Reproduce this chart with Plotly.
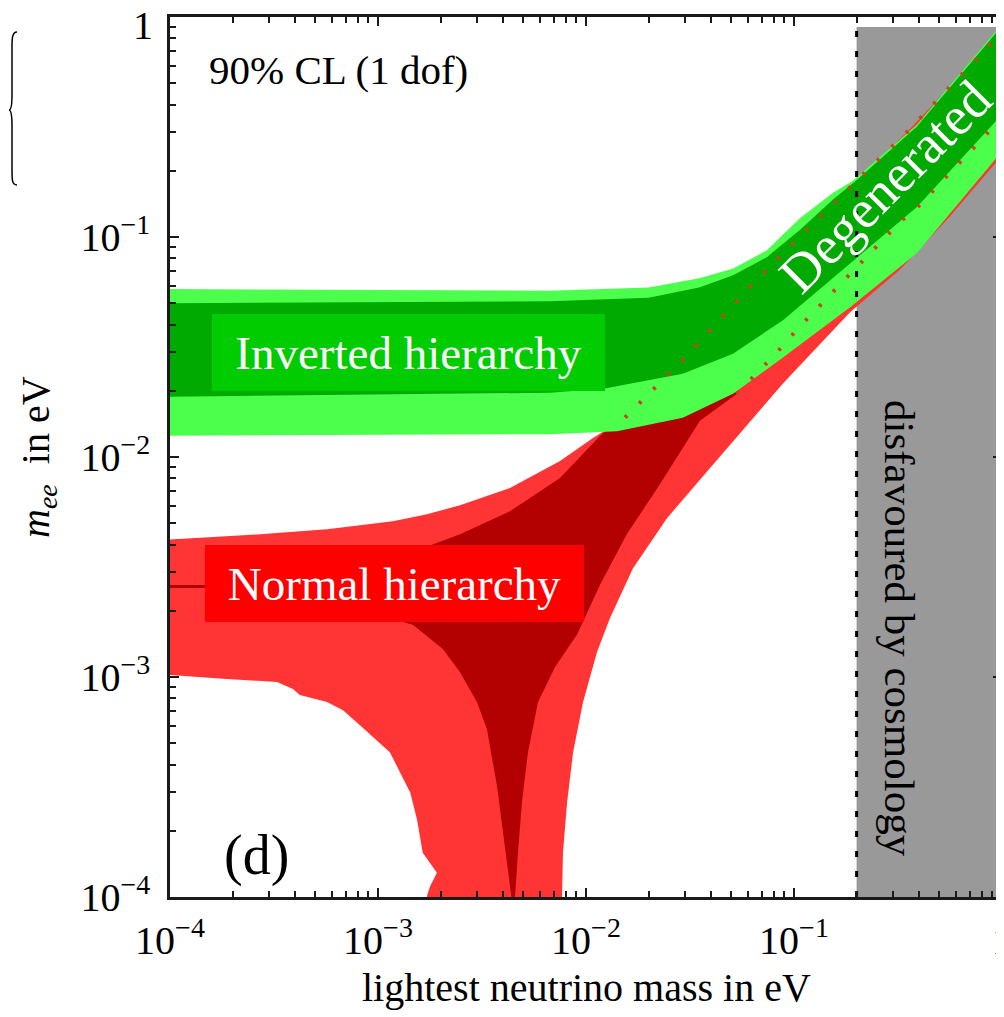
import plotly.graph_objects as go

# ---------------- data ----------------
# Inverted hierarchy, outer (light green) band
ih_outer_up_x = [1e-4, 6.7e-3, 2.0e-2, 3.5e-2, 5.1e-2, 7.4e-2, 0.107, 0.154, 0.192, 0.39, 1.0]
ih_outer_up_y = [0.058, 0.057, 0.059, 0.065, 0.072, 0.087, 0.122, 0.159, 0.180, 0.325, 0.93]
ih_outer_lo_x = [1e-4, 6.7e-3, 1.41e-2, 2.92e-2, 5.09e-2, 8.85e-2, 0.186, 0.39, 1.0]
ih_outer_lo_y = [0.0125, 0.0127, 0.0131, 0.0151, 0.0194, 0.0283, 0.0479, 0.0845, 0.245]
# Inverted hierarchy, inner (dark green) band
ih_inner_up_x = [1e-4, 6.7e-3, 2.0e-2, 3.5e-2, 5.1e-2, 7.4e-2, 0.107, 0.154, 0.201, 0.39, 1.0]
ih_inner_up_y = [0.050, 0.051, 0.053, 0.059, 0.067, 0.081, 0.108, 0.148, 0.182, 0.318, 0.91]
ih_inner_lo_x = [1e-4, 6.7e-3, 1.23e-2, 2.92e-2, 5.09e-2, 8.85e-2, 0.186, 0.39, 1.0]
ih_inner_lo_y = [0.0188, 0.0196, 0.0205, 0.0239, 0.0295, 0.0418, 0.0761, 0.137, 0.36]

# Normal hierarchy, outer (light red) region boundary
nh_outer_x = [1e-4, 2.71e-4, 5.69e-4, 1.18e-3, 1.72e-3, 2.48e-3, 4.31e-3, 7.5e-3, 1.08e-2,
              1.54e-2, 1.96e-2, 3.06e-2, 4.66e-2, 7.1e-2, 0.117, 0.186, 0.349, 0.679, 1.0,
              1.0, 0.562, 0.323, 0.186, 8.85e-2, 6.64e-2, 3.95e-2, 2.45e-2, 1.68e-2, 1.30e-2,
              1.13e-2, 9.68e-3, 8.67e-3, 8.11e-3, 7.75e-3, 7.67e-3, 7.67e-3,
              1.72e-3, 1.72e-3, 1.78e-3, 1.92e-3, 1.64e-3, 1.54e-3, 1.43e-3, 1.14e-3, 8.19e-4,
              6.79e-4, 5.69e-4, 4.21e-4, 3.9e-4, 3.27e-4, 1.88e-4, 1e-4]
nh_outer_y = [0.00422, 0.00445, 0.00469, 0.00510, 0.00549, 0.00604, 0.00722, 0.00959, 0.0122,
              0.0151, 0.0190, 0.0289, 0.0450, 0.0685, 0.110, 0.169, 0.30, 0.58, 0.86,
              0.235, 0.124, 0.071, 0.0455, 0.0216, 0.0157, 0.00891, 0.00527, 0.00311, 0.00184,
              0.00130, 0.000769, 0.000455, 0.000269, 0.000159, 0.000101, 5e-5,
              5e-5, 0.000101, 0.000112, 0.000129, 0.000159, 0.000225, 0.000298, 0.000455, 0.000604,
              0.000707, 0.000769, 0.000828, 0.000881, 0.000949, 0.00098, 0.00102]
# Normal hierarchy, inner (dark red) region boundary
nh_inner_x = [1e-4, 1.47e-4, 4.21e-4, 7.33e-4, 1.28e-3, 2.48e-3, 4.31e-3, 7.5e-3, 1.17e-2,
              1.6e-2, 2.5e-2, 3.8e-2, 5.32e-2,
              3.53e-2, 2.27e-2, 1.57e-2, 1.17e-2, 9.06e-3, 7.1e-3, 5.88e-3, 5.26e-3, 4.92e-3,
              4.71e-3, 4.56e-3, 4.56e-3,
              4.38e-3, 4.38e-3, 4.31e-3, 3.99e-3, 3.73e-3, 3.34e-3, 2.99e-3, 2.48e-3, 2.05e-3,
              1.47e-3, 7.33e-4, 4.21e-4, 2.43e-4, 1.47e-4, 1e-4]
nh_inner_y = [0.00262, 0.00262, 0.00271, 0.00302, 0.00353, 0.00445, 0.00567, 0.00802, 0.0125,
              0.016, 0.020, 0.024, 0.0194,
              0.0146, 0.00753, 0.00445, 0.00263, 0.00156, 0.00111, 0.000769, 0.000455, 0.000269,
              0.000159, 0.000101, 5e-5,
              5e-5, 0.0001, 0.000112, 0.00019, 0.000321, 0.000579, 0.000769, 0.00105, 0.00134,
              0.00173, 0.00209, 0.00232, 0.00244, 0.00254, 0.00254]

# Normal-hierarchy boundaries hidden under the green band (dotted)
nh_dot_up_x = [1.54e-2, 1.96e-2, 3.06e-2, 4.66e-2, 7.1e-2, 0.117, 0.186, 0.349, 0.679, 1.0]
nh_dot_up_y = [0.0151, 0.0190, 0.0289, 0.0450, 0.0685, 0.110, 0.169, 0.30, 0.58, 0.86]
nh_dot_lo_x = [5.32e-2, 6.64e-2, 8.28e-2, 0.1045, 0.1333, 0.166, 0.208, 0.259, 0.323, 0.403, 0.628, 0.946, 1.0]
nh_dot_lo_y = [0.0194, 0.0242, 0.0299, 0.0384, 0.0489, 0.0604, 0.0761, 0.0939, 0.117, 0.14, 0.22, 0.33, 0.345]

# Region disfavoured by cosmology
cosmo_x = [0.2, 1.0]
cosmo_y = [1e-4, 0.9]

x_tickvals = [1e-4, 1e-3, 1e-2, 1e-1, 1]
x_ticktext = ["10<sup>\u22124</sup>", "10<sup>\u22123</sup>", "10<sup>\u22122</sup>", "10<sup>\u22121</sup>", "1"]
y_tickvals = [1e-4, 1e-3, 1e-2, 1e-1, 1]
y_ticktext = ["10<sup>\u22124</sup>", "10<sup>\u22123</sup>", "10<sup>\u22122</sup>", "10<sup>\u22121</sup>", ""]
y_top_label = "1"   # drawn separately, sits just below the top edge in the reference

# ---------------- colours / fonts ----------------
C_LGREEN = "#4DFF4D"
C_DGREEN = "#00AA00"
C_BOXGREEN = "#00CC00"
C_LRED = "#FF3535"
C_DRED = "#B30000"
C_BOXRED = "#FF0000"
C_GRAY = "#999999"
C_DOT = "#C8461E"
FONT = "Liberation Serif"


def band(up_x, up_y, lo_x, lo_y):
    return list(up_x) + list(lo_x)[::-1], list(up_y) + list(lo_y)[::-1]


fig = go.Figure()

# cosmology-disfavoured region
fig.add_trace(go.Scatter(
    x=[cosmo_x[0], cosmo_x[1], cosmo_x[1], cosmo_x[0], cosmo_x[0]],
    y=[cosmo_y[0], cosmo_y[0], cosmo_y[1], cosmo_y[1], cosmo_y[0]],
    fill="toself", fillcolor=C_GRAY, line=dict(width=0), mode="lines",
    hoverinfo="skip", showlegend=False))

# normal hierarchy
fig.add_trace(go.Scatter(x=nh_outer_x, y=nh_outer_y, fill="toself", fillcolor=C_LRED,
                         line=dict(width=0), mode="lines", hoverinfo="skip", showlegend=False))
fig.add_trace(go.Scatter(x=nh_inner_x, y=nh_inner_y, fill="toself", fillcolor=C_DRED,
                         line=dict(width=0), mode="lines", hoverinfo="skip", showlegend=False))

# inverted hierarchy
bx, by = band(ih_outer_up_x, ih_outer_up_y, ih_outer_lo_x, ih_outer_lo_y)
fig.add_trace(go.Scatter(x=bx, y=by, fill="toself", fillcolor=C_LGREEN,
                         line=dict(width=0), mode="lines", hoverinfo="skip", showlegend=False))
bx, by = band(ih_inner_up_x, ih_inner_up_y, ih_inner_lo_x, ih_inner_lo_y)
fig.add_trace(go.Scatter(x=bx, y=by, fill="toself", fillcolor=C_DGREEN,
                         line=dict(width=0), mode="lines", hoverinfo="skip", showlegend=False))

# dotted NH boundaries inside green band
for dx, dy in [(nh_dot_up_x, nh_dot_up_y), (nh_dot_lo_x, nh_dot_lo_y)]:
    fig.add_trace(go.Scatter(x=dx, y=dy, mode="lines",
                             line=dict(color=C_DOT, width=4, dash="3px,17px"),
                             hoverinfo="skip", showlegend=False))

# dashed cosmology bound
fig.add_trace(go.Scatter(x=[cosmo_x[0], cosmo_x[0]], y=[cosmo_y[0], cosmo_y[1]], mode="lines",
                         line=dict(color="black", width=3, dash="6px,14px"),
                         hoverinfo="skip", showlegend=False))

axis_common = dict(
    type="log", showgrid=False, zeroline=False,
    showline=True, linecolor="#1a1a1a", linewidth=2.5, mirror="ticks",
    ticks="inside", ticklen=9, tickwidth=2, tickcolor="#1a1a1a",
    minor=dict(ticks="inside", ticklen=6, tickwidth=1.5, tickcolor="#1a1a1a",
               dtick="D1", showgrid=False),
    tickfont=dict(family=FONT, size=40, color="black"),
    ticklabeloverflow="allow",
)

fig.update_xaxes(**axis_common, range=[-4, 0], tickmode="array",
                 tickvals=x_tickvals, ticktext=x_ticktext, ticklabelstandoff=6)
fig.update_yaxes(**axis_common, range=[-4, 0], tickmode="array",
                 tickvals=y_tickvals, ticktext=y_ticktext, ticklabelstandoff=9)


def label(text, x, y, size, color="black", **kw):
    d = dict(text=text, x=x, y=y, xref="paper", yref="paper", showarrow=False,
             xanchor="center", yanchor="middle",
             font=dict(family=FONT, size=size, color=color))
    d.update(kw)
    return d


ann = [
    label(y_top_label, -0.0325, 0.9898, 40),
    label("90% CL (1 dof)", 0.2031, 0.940, 41),
    label("(d)", 0.1034, 0.0477, 56),
    label("Inverted hierarchy", 0.2867, 0.6188, 47, "white", bgcolor=C_BOXGREEN,
          borderpad=0, borderwidth=0, width=393, height=77, align="center", valign="middle"),
    label("Normal hierarchy", 0.2698, 0.3563, 47, "white", bgcolor=C_BOXRED,
          borderpad=0, borderwidth=0, width=379, height=77, align="center", valign="middle"),
    label("Degenerated", 0.8594, 0.8068, 54, "white", textangle=-45),
    label("disfavoured by cosmology", 0.8774, 0.3045, 43, textangle=90),
    label("lightest neutrino mass in eV", 0.5, -0.1034, 40),
    label("<i>m<sub>ee</sub></i>  in eV", -0.1587, 0.5, 40, textangle=-90),
]

# left curly brace (decoration from the source crop)
brace = ("M -0.1839,0.9830 C -0.1899,0.9830 -0.1899,0.975 -0.1899,0.965 "
         "L -0.1899,0.912 C -0.1899,0.900 -0.1915,0.8943 -0.1935,0.8943 "
         "C -0.1915,0.8943 -0.1899,0.889 -0.1899,0.877 "
         "L -0.1899,0.826 C -0.1899,0.815 -0.1899,0.8091 -0.1839,0.8091")
fig.add_shape(type="path", path=brace, xref="paper", yref="paper",
              line=dict(color="black", width=1.5))

# the page body adds an 8px offset, so the figure is sized to end at the window edge
fig.update_layout(
    width=996, height=1009,
    margin=dict(l=162, r=2, t=9, b=120, autoexpand=False),
    paper_bgcolor="white", plot_bgcolor="white",
    showlegend=False, annotations=ann,
)

fig.write_html("out.html")
